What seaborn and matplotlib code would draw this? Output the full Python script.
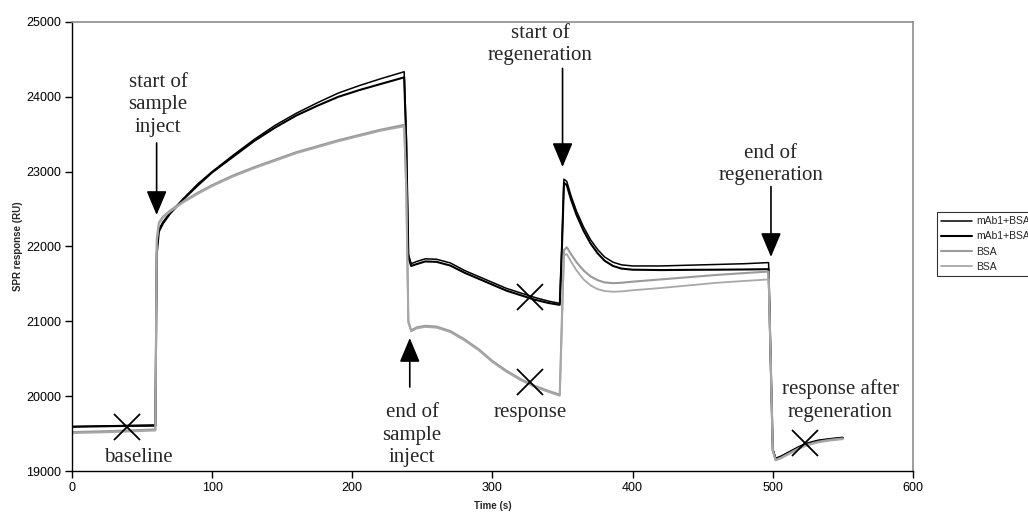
import numpy as np
import pandas as pd
import matplotlib
matplotlib.use("Agg")
import matplotlib.pyplot as plt
import seaborn as sns

# ---- data ----
time_s = [0, 30, 59.5, 60.5, 62, 65, 70, 80, 90, 100, 115, 130, 145, 160, 175, 190, 205, 220, 237,
          238.5, 240, 242, 246, 252, 260, 270, 280, 290, 300, 310, 320, 330, 340, 348,
          349.5, 351, 353, 356, 360, 365, 370, 375, 380, 386, 392, 400, 420, 440, 460, 480, 497,
          498.5, 500, 502, 506, 512, 518, 524, 532, 540, 550]

mab1_a = [19595, 19605, 19615, 22000, 22230, 22330, 22450, 22650, 22840, 23000, 23220, 23430, 23620, 23780, 23920, 24050, 24150, 24240, 24335,
          23500, 21900, 21770, 21800, 21835, 21830, 21780, 21680, 21600, 21520, 21440, 21380, 21320, 21270, 21240,
          22000, 22900, 22870, 22680, 22470, 22260, 22090, 21960, 21860, 21790, 21755, 21740, 21740, 21750, 21760, 21770, 21785,
          20500, 19300, 19170, 19200, 19260, 19320, 19370, 19410, 19430, 19450]

mab1_b = [19590, 19600, 19605, 21900, 22200, 22310, 22440, 22640, 22820, 22990, 23200, 23410, 23590, 23750, 23880, 24000, 24090, 24170, 24260,
          23400, 21860, 21740, 21765, 21800, 21795, 21745, 21650, 21570, 21490, 21410, 21350, 21290, 21245, 21220,
          21950, 22850, 22820, 22630, 22420, 22210, 22040, 21910, 21810, 21740, 21705, 21690, 21685, 21688, 21690, 21693, 21697,
          20450, 19280, 19160, 19190, 19250, 19310, 19360, 19400, 19420, 19440]

bsa_a = [19520, 19535, 19555, 22100, 22320, 22400, 22480, 22610, 22720, 22820, 22950, 23060, 23160, 23260, 23340, 23420, 23490, 23560, 23625,
         22800, 21000, 20880, 20920, 20940, 20930, 20870, 20760, 20630, 20470, 20340, 20230, 20140, 20070, 20020,
         21000, 21950, 21990, 21900, 21790, 21680, 21600, 21550, 21520, 21510, 21515, 21530, 21560, 21590, 21620, 21645, 21665,
         20500, 19280, 19150, 19180, 19240, 19300, 19350, 19390, 19415, 19435]

bsa_b = [19505, 19520, 19540, 22050, 22300, 22385, 22465, 22595, 22705, 22805, 22935, 23045, 23145, 23245, 23325, 23405, 23475, 23545, 23605,
         22750, 20980, 20865, 20905, 20925, 20915, 20855, 20745, 20615, 20455, 20325, 20215, 20125, 20055, 20005,
         20950, 21880, 21900, 21800, 21680, 21560, 21480, 21430, 21405, 21395, 21400, 21415, 21445, 21480, 21515, 21540, 21560,
         20450, 19260, 19140, 19170, 19230, 19290, 19340, 19380, 19405, 19425]

series_names = ["mAb1+BSA", "mAb1+BSA", "BSA", "BSA"]

# cross markers (annotation points)
cross_t = [39, 327, 327, 523]
cross_v = [19590, 21330, 20190, 19374]

# ---- figure ----
sns.set_style("ticks")
plt.rcParams["font.family"] = ["Liberation Sans", "DejaVu Sans"]

fig = plt.figure(figsize=(10.28, 5.16), dpi=100)
ax = fig.add_axes([0.0700, 0.0872, 0.8181, 0.8702])

styles = [
    dict(color="black", lw=1.1),
    dict(color="black", lw=1.5),
    dict(color="#9a9a9a", lw=1.5),
    dict(color="#a8a8a8", lw=1.3),
]
vals = [mab1_a, mab1_b, bsa_a, bsa_b]
handles = []
for name, v, st in zip(series_names, vals, styles):
    df = pd.DataFrame({"t": time_s, "v": v})
    sns.lineplot(data=df, x="t", y="v", ax=ax, color=st["color"], lw=st["lw"],
                 estimator=None, sort=False, legend=False)
    handles.append(ax.lines[-1])

ax.plot(cross_t, cross_v, linestyle="none", marker="x", markersize=19,
        markeredgewidth=1.3, color="black")

ax.set_xlim(0, 600)
ax.set_ylim(19000, 25000)
ax.set_xticks(range(0, 601, 100))
ax.set_yticks(range(19000, 25001, 1000))
ax.tick_params(axis="both", direction="out", length=5, width=1, labelsize=9,
               color="black", labelcolor="black", pad=3)
for s in ["left", "bottom"]:
    ax.spines[s].set_color("black")
    ax.spines[s].set_linewidth(1)
for s in ["top", "right"]:
    ax.spines[s].set_visible(True)
    ax.spines[s].set_color("#8c8c8c")
    ax.spines[s].set_linewidth(1.2)

ax.set_xlabel("Time (s)", fontsize=7, fontweight="bold", labelpad=5)
ax.set_ylabel("SPR response (RU)", fontsize=7, fontweight="bold", labelpad=2)

# ---- annotations ----
serif = ["Liberation Serif", "DejaVu Serif"]
tkw = dict(ha="center", va="center", multialignment="center", fontsize=15,
           family=serif, linespacing=1.22)
ax.text(61.4, 23891, "start of\nsample\ninject", **tkw)
ax.text(242.6, 19481, "end of\nsample\ninject", **tkw)
ax.text(334, 24700, "start of\nregeneration", **tkw)
ax.text(498.7, 23090, "end of\nregeneration", **tkw)
ax.text(548, 19942, "response after\nregeneration", **tkw)
ax.text(47, 19187, "baseline", **tkw)
ax.text(326.7, 19788, "response", **tkw)

akw = dict(arrowstyle="-|>,head_length=1.0,head_width=0.42", mutation_scale=15,
           color="black", lw=1.2, shrinkA=0, shrinkB=0)
ax.annotate("", xy=(60.4, 22421), xytext=(60.4, 23383), arrowprops=akw)
ax.annotate("", xy=(241, 20777), xytext=(241, 20122), arrowprops=akw)
ax.annotate("", xy=(350, 23062), xytext=(350, 24380), arrowprops=akw)
ax.annotate("", xy=(498.7, 21860), xytext=(498.7, 22800), arrowprops=akw)

# ---- legend ----
leg = fig.legend(handles, series_names, loc="upper left",
                 bbox_to_anchor=(937 / 1028, 1 - 212 / 516), fontsize=7.5,
                 frameon=True, fancybox=False, borderpad=0.4, labelspacing=0.5,
                 handlelength=3.0, handletextpad=0.4, borderaxespad=0)
leg.get_frame().set_edgecolor("black")
leg.get_frame().set_linewidth(0.8)

fig.savefig("out.png", dpi=100)
